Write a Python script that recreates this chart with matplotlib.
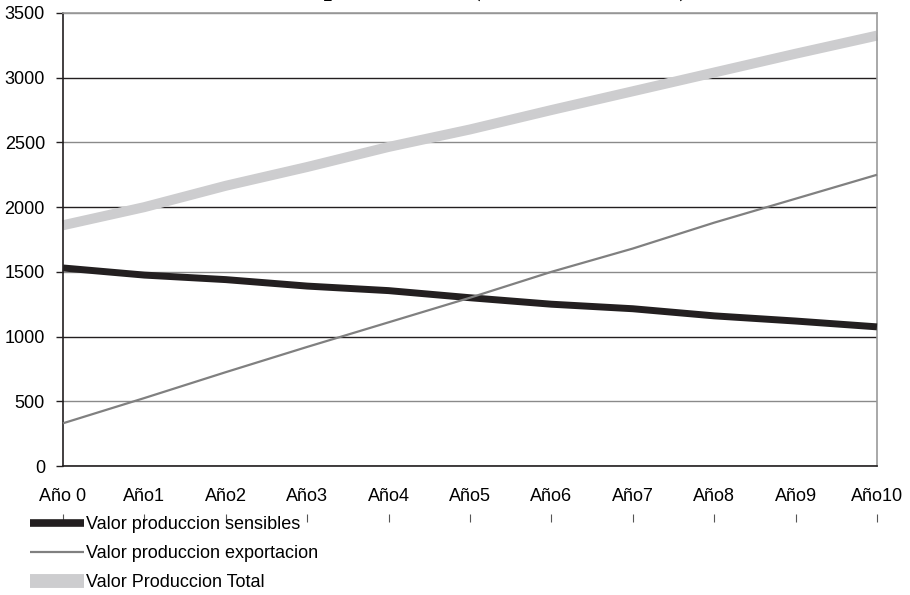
import numpy as np
import matplotlib.pyplot as plt

# --- datos ---
years = ["Año 0", "Año1", "Año2", "Año3", "Año4", "Año5",
         "Año6", "Año7", "Año8", "Año9", "Año10"]
sensibles = [1530, 1475, 1440, 1390, 1355, 1300, 1250, 1215, 1160, 1120, 1075]
exportacion = [330, 525, 725, 920, 1110, 1300, 1500, 1680, 1880, 2065, 2250]
total = [1860, 2000, 2165, 2310, 2465, 2600, 2750, 2895, 3040, 3185, 3325]
y_ticks = [0, 500, 1000, 1500, 2000, 2500, 3000, 3500]

title = "Valor de la producción (miles de dólares)"

plt.rcParams["font.family"] = ["Liberation Sans", "DejaVu Sans"]

fig = plt.figure(figsize=(9.1, 5.95), dpi=100)
ax = fig.add_axes([0.0692, 0.2168, 0.8945, 0.7614])

x = np.arange(len(years))
l1, = ax.plot(x, sensibles, color="#231f20", lw=5, solid_capstyle="butt",
              label="Valor produccion sensibles", zorder=3)
l2, = ax.plot(x, exportacion, color="#808080", lw=1.6, solid_capstyle="butt",
              label="Valor produccion exportacion", zorder=4)
l3, = ax.plot(x, total, color="#cdcdcf", lw=7.2, solid_capstyle="butt",
              label="Valor Produccion Total", zorder=2)
for ln in (l1, l2, l3):
    ln.set_clip_on(False)

ax.set_xlim(0, len(years) - 1)
ax.set_ylim(0, 3500)
ax.set_yticks(y_ticks)
ax.set_xticks(x)
ax.set_xticklabels(years)

ax.tick_params(axis="y", labelsize=13, length=5, width=1, color="#231f20", pad=8)
ax.tick_params(axis="x", labelsize=13, length=0, pad=16)

# lineas de division (alternan negro / gris como en el original)
ax.yaxis.grid(True, lw=1)
for i, gl in enumerate(ax.get_ygridlines()):
    gl.set_color("#231f20" if i % 2 == 0 else "#8a8a8a")
ax.set_axisbelow(True)

ax.spines["left"].set_color("#231f20")
ax.spines["bottom"].set_color("#231f20")
ax.spines["top"].set_color("#999999")
ax.spines["right"].set_color("#999999")
for s in ax.spines.values():
    s.set_linewidth(1.2)

# marcas de categoria desplazadas debajo de las etiquetas
sec = ax.secondary_xaxis(-0.115)
sec.set_xticks(x)
sec.set_xticklabels([""] * len(years))
sec.tick_params(length=6, direction="inout", color="#555555", width=0.8)
sec.spines["bottom"].set_visible(False)

# titulo cortado en el borde superior (como en el original)
fig.text(0.479, 1.0 + 5 / 595, title, ha="center", va="baseline",
         fontsize=21, fontweight="bold", family=["Liberation Serif", "DejaVu Serif"])

leg = fig.legend(handles=[l1, l2, l3], loc="upper left",
                 bbox_to_anchor=(0.033, 0.133), frameon=False, fontsize=13,
                 borderpad=0, borderaxespad=0, handlelength=3.0,
                 handletextpad=0.1, labelspacing=0.68)
leg_widths = [5.5, 1.6, 10]
for ln, w in zip(leg.get_lines(), leg_widths):
    ln.set_linewidth(w)

fig.savefig("out.png", dpi=100)
